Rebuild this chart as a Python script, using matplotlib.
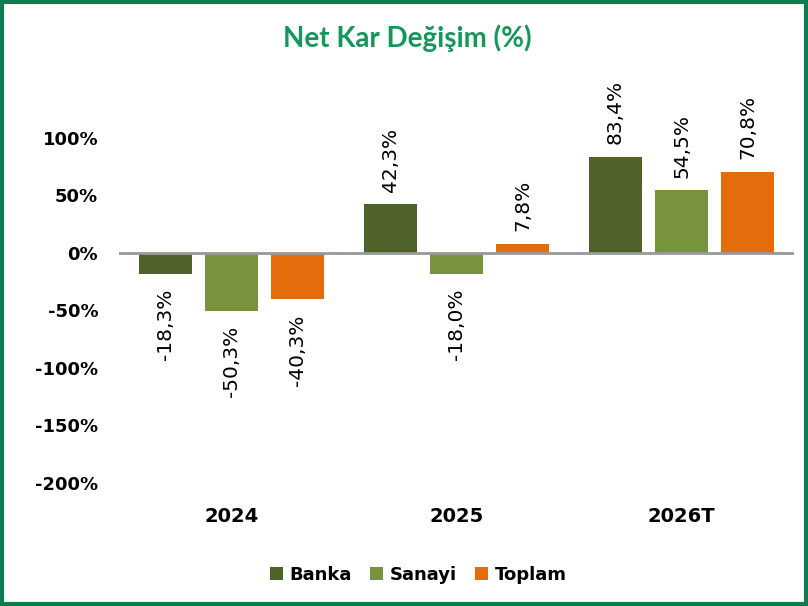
import matplotlib

matplotlib.use("Agg")
import matplotlib.pyplot as plt
import numpy as np
from matplotlib.patches import Rectangle

categories = ["2024", "2025", "2026T"]
series = ["Banka", "Sanayi", "Toplam"]
banka = [-18.3, 42.3, 83.4]
sanayi = [-50.3, -18.0, 54.5]
toplam = [-40.3, 7.8, 70.8]
yticks = [-200, -150, -100, -50, 0, 50, 100]

colors = ["#4f6228", "#77933c", "#e46c0a"]
green = "#0b7d4f"

fig = plt.figure(figsize=(8.08, 6.06), dpi=100)
ax = fig.add_axes([0.1473, 0.2030, 0.8354, 0.6642])

x = np.arange(len(categories))
width = 0.235
step = 0.295
for i, (name, vals) in enumerate(zip(series, [banka, sanayi, toplam])):
    pos = x + (i - 1) * step
    ax.bar(pos, vals, width, color=colors[i], label=name, zorder=2)
    for px, v in zip(pos, vals):
        txt = f"{v:.1f}%".replace(".", ",")
        if v >= 0:
            ax.text(px, v + 11, txt, rotation=90, ha="center", va="bottom", fontsize=14.5)
        else:
            ax.text(px, v - 13, txt, rotation=90, ha="center", va="top", fontsize=14.5)

ax.axhline(0, color="#999999", lw=2, zorder=3)
ax.set_xlim(-0.5, 2.5)
ax.set_ylim(-200, 150)
ax.set_yticks(yticks)
ax.set_yticklabels([f"{t}%" for t in yticks], fontsize=13, fontweight="bold")
ax.set_xticks(x)
ax.set_xticklabels(categories, fontsize=14, fontweight="bold")
ax.tick_params(axis="y", length=0, pad=15)
ax.tick_params(axis="x", length=0, pad=17)
for s in ax.spines.values():
    s.set_visible(False)

fig.text(0.504, 0.937, "Net Kar Değişim (%)", ha="center", va="center",
         fontsize=20, fontweight="bold", color="#13985a", family="Lato")

fig.legend(loc="center", bbox_to_anchor=(0.518, 0.051), ncol=3, frameon=False,
           handlelength=0.7, handleheight=0.7, handletextpad=0.4,
           columnspacing=1.0, prop={"weight": "bold", "size": 13})

fig.patches.append(Rectangle((0.003, 0.004), 0.994, 0.992, transform=fig.transFigure,
                             fill=False, edgecolor=green, lw=3))

fig.savefig("out.png", dpi=100)
